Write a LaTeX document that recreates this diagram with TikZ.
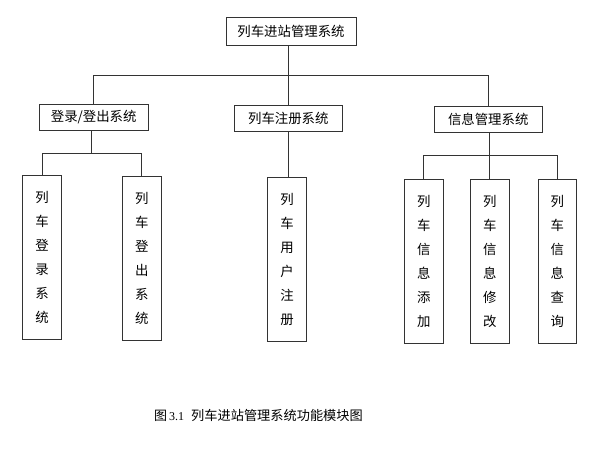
\documentclass[tikz,border=0pt]{standalone}
\usepackage{fontspec}
\setmainfont{Liberation Serif}
\newfontfamily\cjk{Noto Sans CJK SC}
\begin{document}
\begin{tikzpicture}[x=1pt,y=-1pt,
  box/.style={draw=black!80, line width=0.8pt, inner sep=0pt, font=\cjk\fontsize{13.4}{15}\selectfont},
  hbox/.style={box, minimum height=26pt, minimum width=108pt},
  vbox/.style={box, minimum height=164pt, minimum width=38.5pt, align=center, font=\cjk\fontsize{13.4}{24}\selectfont},
  conn/.style={draw=black!80, line width=0.8pt}]
\useasboundingbox (0,0) rectangle (592,461);
\node[box, minimum width=130pt, minimum height=28pt] (top) at (291,31) {列车进站管理系统};
\node[hbox, minimum width=109pt] (login) at (93.7,117) {登录/登出系统};
\node[hbox] (reg) at (288.3,118) {列车注册系统};
\node[hbox] (info) at (488.2,119.3) {信息管理系统};
\node[vbox] (c1) at (42,257.5) {列\\车\\登\\录\\系\\统};
\node[vbox] (c2) at (141.8,258.3) {列\\车\\登\\出\\系\\统};
\node[vbox] (c3) at (287,259.3) {列\\车\\用\\户\\注\\册};
\node[vbox] (c4) at (423.8,261.3) {列\\车\\信\\息\\添\\加};
\node[vbox] (c5) at (489.8,261.3) {列\\车\\信\\息\\修\\改};
\node[vbox] (c6) at (557.2,261.3) {列\\车\\信\\息\\查\\询};
\coordinate (b1) at (288.3,75.7);
\coordinate (b2) at (91.5,153.7);
\coordinate (b3) at (489.3,155.3);
\draw[conn] (reg.north |- top.south) -- (b1);
\draw[conn] (b1) -- (reg.north);
\draw[conn] (login.north) -- (login.north |- b1) -- (info.north |- b1) -- (info.north);
\draw[conn] (login.south -| b2) -- (b2);
\draw[conn] (c1.north) -- (c1.north |- b2) -- (c2.north |- b2) -- (c2.north);
\draw[conn] (reg.south) -- (c3.north -| reg.south);
\draw[conn] (info.south -| b3) -- (b3);
\draw[conn] (c4.north) -- (c4.north |- b3) -- (c6.north |- b3) -- (c6.north);
\draw[conn] (b3) -- (c5.north -| b3);
\node[anchor=west, inner sep=0pt] (cap) at (154,415) {{\cjk\fontsize{13}{14}\selectfont 图}\hspace{2pt}{\fontsize{12}{14}\selectfont 3.1}\hspace{7pt}{\cjk\fontsize{13.2}{14}\selectfont 列车进站管理系统功能模块图}};
\end{tikzpicture}
\end{document}
